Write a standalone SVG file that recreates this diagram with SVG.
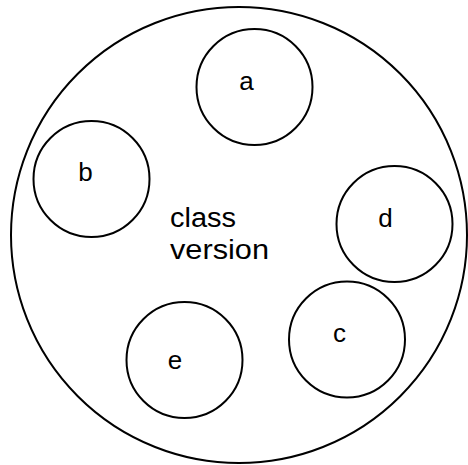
<svg xmlns="http://www.w3.org/2000/svg" width="468" height="465" viewBox="0 0 468 465">
<style>
.c{fill:none;stroke:#000;stroke-width:2}
.t{font-family:"Liberation Sans",Arial,sans-serif;font-size:26px;fill:#000;text-anchor:middle}
.m{font-family:"Liberation Sans",Arial,sans-serif;font-size:27px;fill:#000}
</style>
<rect width="468" height="465" fill="#fff"/>
<g id="class-version">
<ellipse class="c" cx="239" cy="235" rx="228" ry="228"/>
<text class="m" x="170" y="227" textLength="66" lengthAdjust="spacingAndGlyphs">class</text>
<text class="m" x="170" y="259" textLength="99" lengthAdjust="spacingAndGlyphs">version</text>
</g>
<g id="a">
<circle class="c" cx="254.5" cy="87" r="58"/>
<text class="t" x="246.5" y="90">a</text>
</g>
<g id="b">
<circle class="c" cx="91.5" cy="179" r="58"/>
<text class="t" x="85.5" y="181">b</text>
</g>
<g id="d">
<circle class="c" cx="394.5" cy="224" r="58"/>
<text class="t" x="385.5" y="227">d</text>
</g>
<g id="c">
<circle class="c" cx="347" cy="339.5" r="58"/>
<text class="t" x="339.5" y="342">c</text>
</g>
<g id="e">
<circle class="c" cx="184.5" cy="360" r="58"/>
<text class="t" x="175" y="369">e</text>
</g>
<g id="connectors"/>
</svg>
